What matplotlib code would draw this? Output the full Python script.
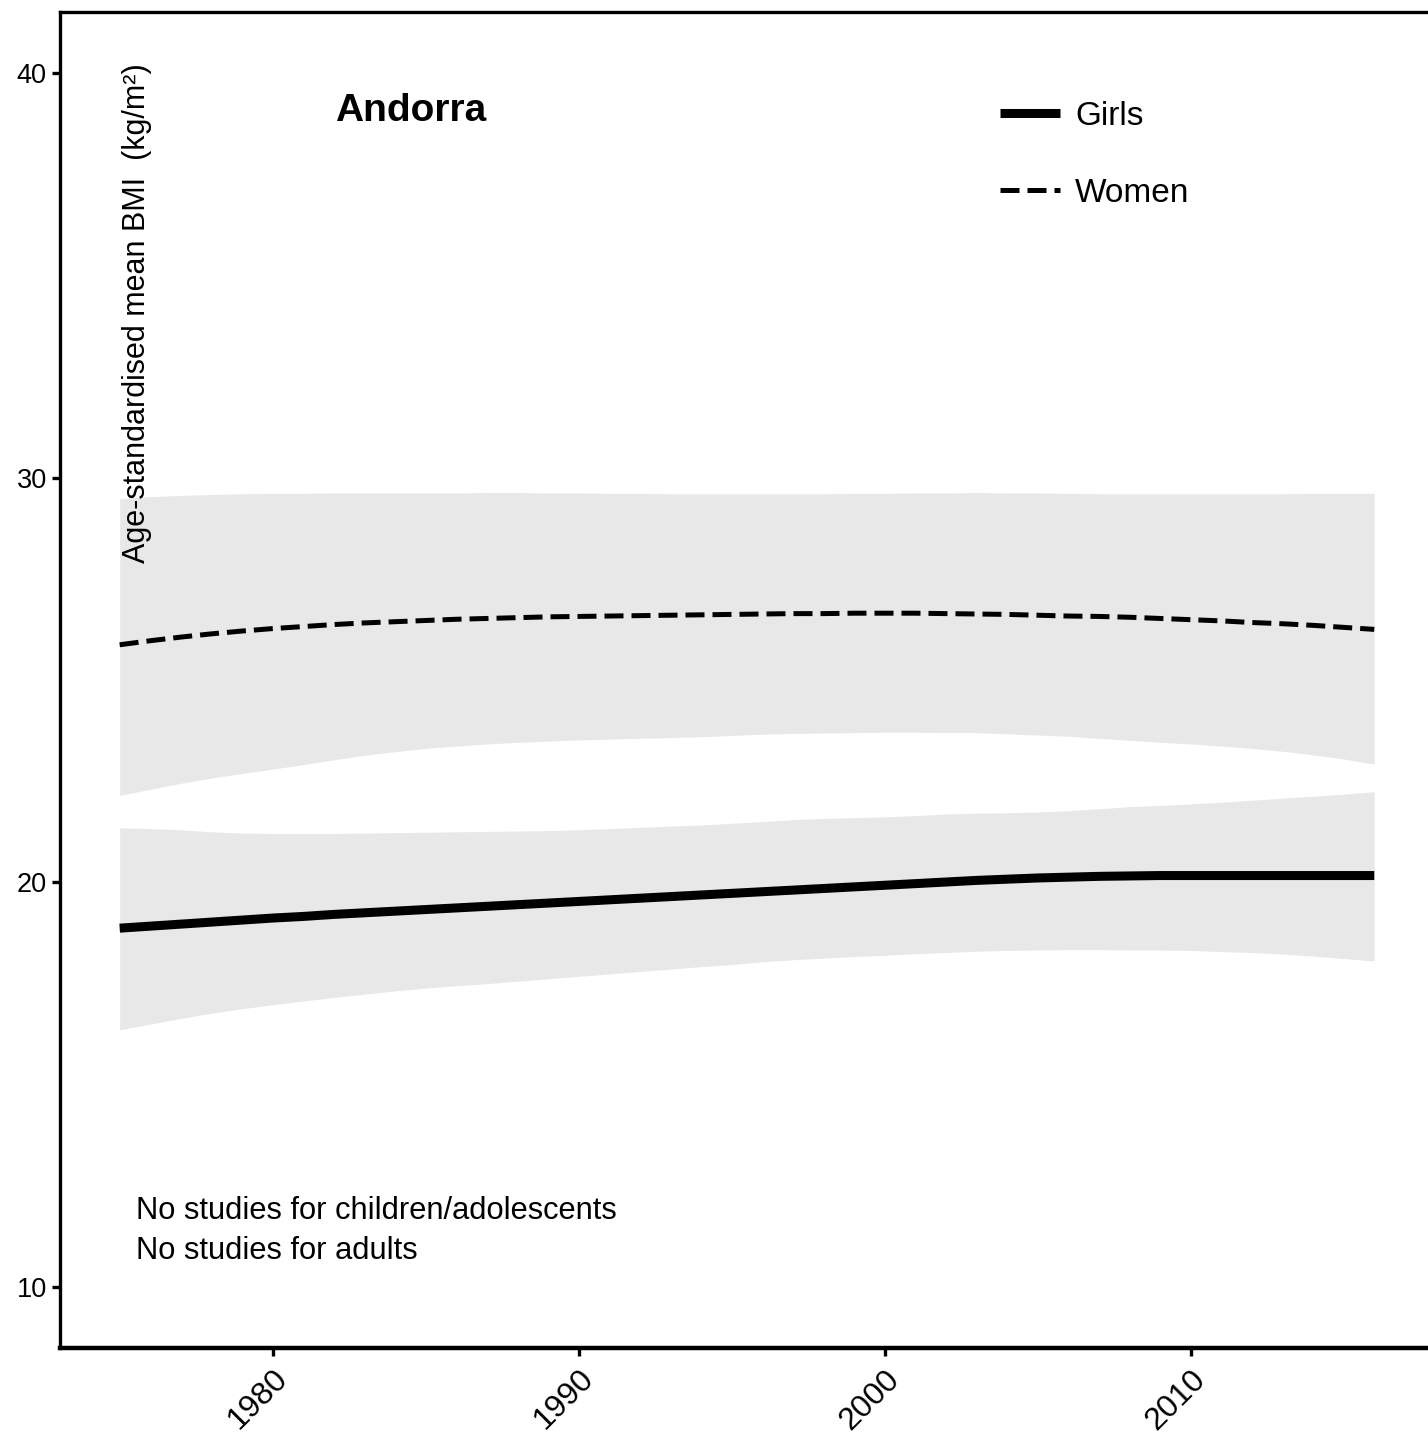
import matplotlib
matplotlib.use("Agg")
import matplotlib.pyplot as plt
from matplotlib.lines import Line2D

plt.rcParams['font.family'] = ['Liberation Sans', 'DejaVu Sans']

years = list(range(1975, 2017))

women_mean = [25.87, 25.97, 26.06, 26.14, 26.21, 26.27, 26.32, 26.37, 26.41, 26.44,
              26.47, 26.50, 26.52, 26.54, 26.56, 26.57, 26.58, 26.59, 26.60, 26.61,
              26.62, 26.63, 26.64, 26.64, 26.65, 26.65, 26.65, 26.64, 26.63, 26.62,
              26.60, 26.58, 26.57, 26.55, 26.52, 26.49, 26.46, 26.42, 26.39, 26.35,
              26.30, 26.25]
women_upper = [29.48, 29.53, 29.56, 29.58, 29.60, 29.61, 29.61, 29.62, 29.62, 29.62,
               29.62, 29.62, 29.63, 29.63, 29.62, 29.62, 29.61, 29.61, 29.60, 29.60,
               29.60, 29.60, 29.60, 29.60, 29.61, 29.61, 29.62, 29.62, 29.63, 29.62,
               29.62, 29.61, 29.60, 29.60, 29.60, 29.60, 29.60, 29.60, 29.60, 29.61,
               29.61, 29.61]
women_lower = [22.15, 22.30, 22.45, 22.58, 22.69, 22.80, 22.91, 23.03, 23.14, 23.23,
               23.31, 23.37, 23.42, 23.46, 23.49, 23.52, 23.54, 23.56, 23.58, 23.60,
               23.63, 23.66, 23.68, 23.69, 23.70, 23.71, 23.71, 23.70, 23.70, 23.67,
               23.64, 23.61, 23.56, 23.51, 23.46, 23.42, 23.37, 23.31, 23.24, 23.15,
               23.05, 22.92]

girls_mean = [18.87, 18.92, 18.97, 19.02, 19.07, 19.12, 19.16, 19.21, 19.25, 19.29,
              19.33, 19.37, 19.41, 19.45, 19.49, 19.53, 19.57, 19.61, 19.65, 19.69,
              19.73, 19.77, 19.81, 19.85, 19.89, 19.93, 19.97, 20.01, 20.05, 20.08,
              20.11, 20.13, 20.15, 20.16, 20.17, 20.17, 20.17, 20.17, 20.17, 20.17,
              20.17, 20.17]
girls_upper = [21.35, 21.33, 21.30, 21.25, 21.22, 21.21, 21.21, 21.21, 21.22, 21.23,
               21.24, 21.25, 21.26, 21.27, 21.28, 21.30, 21.33, 21.36, 21.39, 21.42,
               21.46, 21.50, 21.55, 21.58, 21.60, 21.62, 21.65, 21.69, 21.71, 21.72,
               21.74, 21.77, 21.82, 21.87, 21.90, 21.94, 21.98, 22.03, 22.08, 22.13,
               22.18, 22.24]
girls_lower = [16.36, 16.50, 16.64, 16.77, 16.88, 16.98, 17.07, 17.16, 17.24, 17.32,
               17.39, 17.45, 17.50, 17.56, 17.62, 17.68, 17.74, 17.80, 17.86, 17.92,
               17.97, 18.04, 18.09, 18.13, 18.17, 18.20, 18.24, 18.27, 18.30, 18.32,
               18.33, 18.34, 18.34, 18.33, 18.33, 18.32, 18.29, 18.27, 18.23, 18.18,
               18.12, 18.06]

x_ticks = [1980, 1990, 2000, 2010]
y_ticks = [10, 20, 30, 40]
country = "Andorra"
series_labels = ["Girls", "Women"]
notes = ["No studies for children/adolescents", "No studies for adults"]
ylabel = "Age-standardised mean BMI  (kg/m²)"

W, H = 1428, 1448
fig = plt.figure(figsize=(W / 100, H / 100), dpi=100)
ax_left, ax_right, ax_top, ax_bottom = 60, 1437, 12, 1348
ax = fig.add_axes([ax_left / W, 1 - ax_bottom / H, (ax_right - ax_left) / W, (ax_bottom - ax_top) / H])
ax.set_xlim(1973.05, 2018.05)
ax.set_ylim(8.5, 41.5)

band = '#e8e8e8'
ax.fill_between(years, women_lower, women_upper, color=band, lw=0, zorder=1)
ax.fill_between(years, girls_lower, girls_upper, color=band, lw=0, zorder=1)
ax.plot(years, girls_mean, color='black', lw=6.5, solid_capstyle='butt', zorder=3)
ax.plot(years, women_mean, color='black', lw=3.6, dashes=(3.8, 1.6), dash_capstyle='butt', zorder=3)

ax.set_xticks(x_ticks)
ax.set_yticks(y_ticks)
ax.set_xticklabels([str(t) for t in x_ticks], rotation=45, ha='right', va='top', rotation_mode='anchor', fontsize=23)
ax.set_yticklabels([str(t) for t in y_ticks], fontsize=19.5)
ax.tick_params(axis='both', direction='out', length=5.5, width=2.4, color='black', labelcolor='black')
ax.tick_params(axis='y', pad=4)
ax.tick_params(axis='x', pad=6)

ax.spines['right'].set_visible(False)
ax.spines['left'].set_linewidth(2.4)
ax.spines['top'].set_linewidth(2.4)
ax.spines['bottom'].set_linewidth(3.2)

ax.text(1982.04, 39.06, country, fontsize=28, fontweight='bold', ha='left', va='center')
ax.text(1975.57, 27.89, ylabel, rotation=90, fontsize=22, ha='center', va='bottom')
ax.text(1975.53, 11.88, notes[0], fontsize=22.2, ha='left', va='center')
ax.text(1975.53, 10.90, notes[1], fontsize=22.2, ha='left', va='center')

handles = [Line2D([], [], color='black', lw=6.5, solid_capstyle='butt'),
           Line2D([], [], color='black', lw=3.6, dashes=(3.8, 1.6), dash_capstyle='butt')]
leg = ax.legend(handles, series_labels, loc='upper left',
                bbox_to_anchor=(1000 / W, 1 - 101 / H), bbox_transform=fig.transFigure,
                frameon=False, fontsize=24, handlelength=1.8, handletextpad=0.45,
                labelspacing=1.38, borderpad=0, borderaxespad=0)

fig.savefig('out.png', dpi=100)
